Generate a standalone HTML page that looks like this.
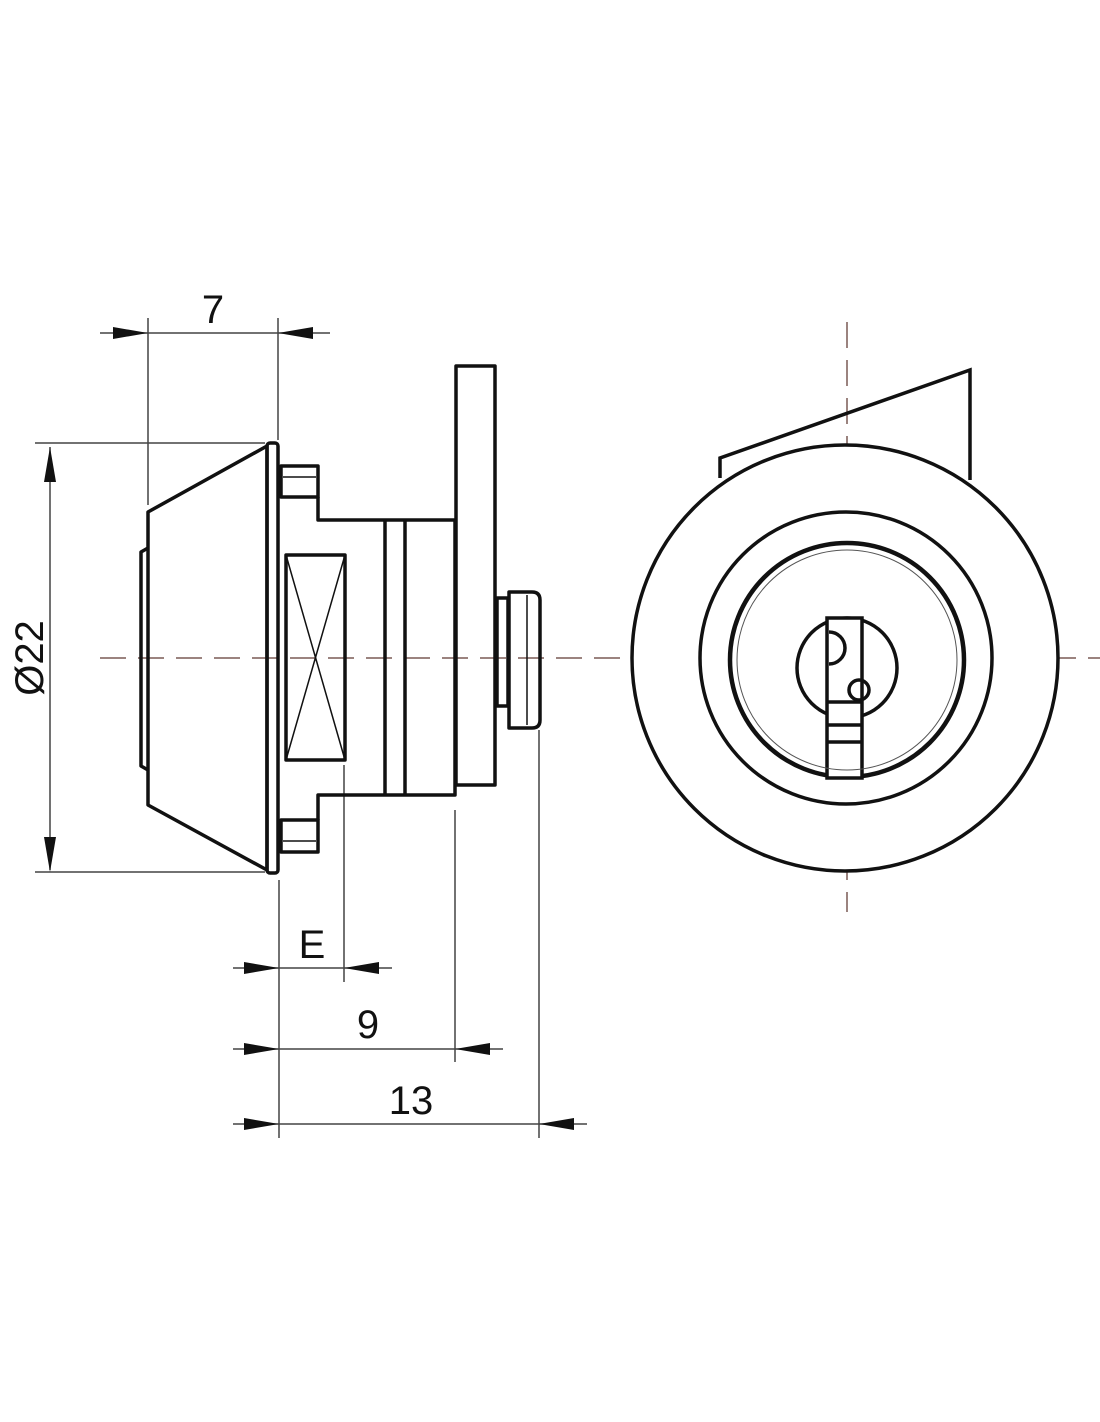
<!DOCTYPE html>
<html><head><meta charset="utf-8"><style>html,body{margin:0;padding:0;background:#fff}svg{display:block}</style></head>
<body>
<svg width="1100" height="1422" viewBox="0 0 1100 1422" xmlns="http://www.w3.org/2000/svg">
<defs>
<marker id="a" viewBox="0 0 10 10" refX="10" refY="5" markerWidth="10" markerHeight="10" markerUnits="userSpaceOnUse" orient="auto"><path d="M0,0 L10,5 L0,10 Z" fill="#111"/></marker>
</defs>
<g stroke="#444" stroke-width="1.5" fill="none">
<!-- extension lines -->
<line x1="148" y1="318" x2="148" y2="505"/>
<line x1="278" y1="318" x2="278" y2="440"/>
<line x1="35" y1="443" x2="265" y2="443"/>
<line x1="35" y1="872" x2="265" y2="872"/>
<line x1="279" y1="880" x2="279" y2="1138"/>
<line x1="344" y1="765" x2="344" y2="982"/>
<line x1="455" y1="810" x2="455" y2="1062"/>
<line x1="539" y1="730" x2="539" y2="1138"/>
<!-- dim lines -->
<line x1="100" y1="333" x2="330" y2="333"/>
<line x1="50" y1="447" x2="50" y2="870"/>
<line x1="233" y1="968" x2="392" y2="968"/>
<line x1="233" y1="1049" x2="503" y2="1049"/>
<line x1="233" y1="1124" x2="587" y2="1124"/>
<!-- center lines -->
<line x1="100" y1="658" x2="1100" y2="658" stroke="#7a5a55" stroke-dasharray="26 12"/>
<line x1="847" y1="322" x2="847" y2="912" stroke="#7a5a55" stroke-dasharray="26 12"/>
</g>
<g fill="#111">
<path d="M113,327 L148,333 L113,339 Z"/>
<path d="M313,327 L278,333 L313,339 Z"/>
<path d="M44,482 L50,447 L56,482 Z"/>
<path d="M44,837 L50,872 L56,837 Z"/>
<path d="M244,962 L279,968 L244,974 Z"/>
<path d="M379,962 L344,968 L379,974 Z"/>
<path d="M244,1043 L279,1049 L244,1055 Z"/>
<path d="M490,1043 L455,1049 L490,1055 Z"/>
<path d="M244,1118 L279,1124 L244,1130 Z"/>
<path d="M574,1118 L539,1124 L574,1130 Z"/>
</g>
<g font-family="'Liberation Sans', sans-serif" font-size="40" fill="#111" text-anchor="middle">
<text x="213" y="323">7</text>
<text x="312" y="958">E</text>
<text x="368" y="1038">9</text>
<text x="411" y="1114">13</text>
<text transform="translate(43,658) rotate(-90)">Ø22</text>
</g>
<!-- left view -->
<g stroke="#111" stroke-width="3.5" fill="none" stroke-linejoin="round">
<path d="M148,512 L267,446 L267,870 L148,805 Z"/>
<rect x="267" y="443" width="11" height="430" rx="3"/>
<path d="M148,548 L141,552 L141,766 L148,770"/>
<rect x="281" y="466" width="37" height="31"/>
<rect x="281" y="820" width="37" height="32"/>
<path d="M318,497 L318,520 L455,520 L455,795 L318,795 L318,820"/>
<rect x="286" y="555" width="59" height="205"/>
<line x1="385" y1="520" x2="385" y2="795"/>
<line x1="405" y1="520" x2="405" y2="795"/>
<rect x="456" y="366" width="39" height="419"/>
<rect x="497" y="598" width="11" height="108"/>
<path d="M509,592 L532,592 Q540,592 540,600 L540,720 Q540,728 532,728 L509,728 Z"/>
</g>
<g stroke="#111" stroke-width="1.5">
<line x1="286" y1="555" x2="345" y2="760"/>
<line x1="345" y1="555" x2="286" y2="760"/>
<line x1="283" y1="477" x2="316" y2="477"/>
<line x1="283" y1="841" x2="316" y2="841"/>
<line x1="527" y1="595" x2="527" y2="725"/>
</g>
<!-- right view -->
<g stroke="#111" stroke-width="3.5" fill="none">
<path d="M720,478 L720,458 L970,370 L970,480"/>
<circle cx="845" cy="658" r="213" fill="#fff"/>
<circle cx="846" cy="658" r="146"/>
<circle cx="847" cy="660" r="117" stroke-width="4.5"/>
<circle cx="847" cy="668" r="50"/>
<rect x="827" y="618" width="35" height="160" fill="#fff"/>
<path d="M829,632 A16,16 0 0 1 829,664"/>
<circle cx="859" cy="690" r="10"/>
<line x1="827" y1="702" x2="862" y2="702"/>
<line x1="827" y1="725" x2="862" y2="725"/>
<line x1="827" y1="742" x2="862" y2="742"/>
</g>
<circle cx="847" cy="660" r="110" stroke="#555" stroke-width="1" fill="none"/>
</svg>
</body></html>
